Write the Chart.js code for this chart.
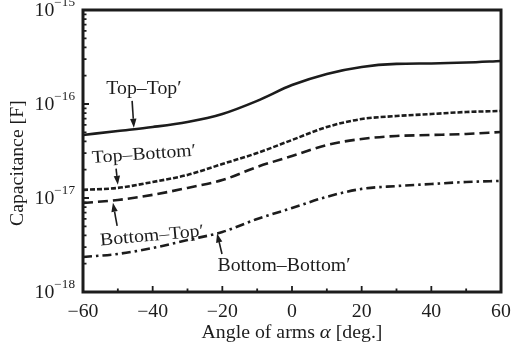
<!DOCTYPE html>
<html lang="en">
<head>
	<meta charset="UTF-8">
	<script src="https://cdn.jsdelivr.net/npm/chart.js"></script>
	<title>Capacitance vs angle of arms</title>
	<style>
		html, body { margin: 0; padding: 0; background: #fff; }
		#zonagrafico { width: 513px; height: 351px; }
	</style>
</head>
<body>
	<div id="zonagrafico">
		<canvas id="myChart"></canvas>
	</div>
	<script type="text/javascript">
		// data
		const angles = [-60, -50, -40, -30, -20, -10, 0, 10, 20, 30, 40, 50, 60];
		const topTop = [4.68e-17, 5.16e-17, 5.69e-17, 6.44e-17, 7.83e-17, 1.08e-16, 1.59e-16, 2.09e-16, 2.48e-16, 2.67e-16, 2.70e-16, 2.76e-16, 2.87e-16];
		const topBottom = [1.22e-17, 1.28e-17, 1.48e-17, 1.76e-17, 2.30e-17, 3.01e-17, 4.14e-17, 5.69e-17, 6.92e-17, 7.45e-17, 7.83e-17, 8.22e-17, 8.43e-17];
		const bottomTop = [8.85e-18, 9.52e-18, 1.08e-17, 1.28e-17, 1.55e-17, 2.14e-17, 2.80e-17, 3.66e-17, 4.25e-17, 4.57e-17, 4.68e-17, 4.80e-17, 5.04e-17];
		const bottomBottom = [2.36e-18, 2.54e-18, 2.94e-18, 3.57e-18, 4.35e-18, 5.98e-18, 7.83e-18, 1.03e-17, 1.25e-17, 1.34e-17, 1.41e-17, 1.48e-17, 1.52e-17];

		const xTicks = [-60, -40, -20, 0, 20, 40, 60];
		const xMinorTicks = [-50, -30, -10, 10, 30, 50];
		const yTicks = [1e-18, 1e-17, 1e-16, 1e-15];
		const yTickExp = ['\u221218', '\u221217', '\u221216', '\u221215'];

		// labels with arrows, in data units: [text, x, y, arrow from x, from y, to x, to y, rotation]
		const notas = [
			['Top\u2013Top\u2032', -42.5, 1.44e-16, -45.9, 1.08e-16, -45.4, 5.6e-17, 0],
			['Top\u2013Bottom\u2032', -42.5, 2.9e-17, -50.5, 2.05e-17, -50.0, 1.38e-17, -0.07],
			['Bottom\u2013Top\u2032', -40.2, 3.94e-18, -50.2, 5.04e-18, -51.4, 8.9e-18, -0.09],
			['Bottom\u2013Bottom\u2032', -2.3, 1.89e-18, -20.1, 2.54e-18, -21.5, 4.2e-18, 0]
		];

		const tinta = '#1c1c1c';
		const serif = '"Liberation Serif", "Times New Roman", serif';
		const estirar = 1.1;

		function texto(ctx, s, x, y, size, align, italic, rot) {
			ctx.save();
			ctx.translate(x, y);
			if (rot) ctx.rotate(rot);
			ctx.scale(estirar, 1);
			ctx.font = (italic ? 'italic ' : '') + size + 'px ' + serif;
			ctx.textAlign = align;
			ctx.textBaseline = 'middle';
			ctx.fillStyle = tinta;
			ctx.fillText(s, 0, 0);
			ctx.restore();
		}

		function ancho(ctx, s, size, italic) {
			ctx.save();
			ctx.font = (italic ? 'italic ' : '') + size + 'px ' + serif;
			const w = ctx.measureText(s).width * estirar;
			ctx.restore();
			return w;
		}

		function flecha(ctx, x1, y1, x2, y2) {
			const ang = Math.atan2(y2 - y1, x2 - x1);
			const L = 9, W = 3.2;
			ctx.save();
			ctx.strokeStyle = tinta;
			ctx.fillStyle = tinta;
			ctx.lineWidth = 1.6;
			ctx.beginPath();
			ctx.moveTo(x1, y1);
			ctx.lineTo(x2 - L * Math.cos(ang), y2 - L * Math.sin(ang));
			ctx.stroke();
			ctx.beginPath();
			ctx.moveTo(x2, y2);
			ctx.lineTo(x2 - L * Math.cos(ang) + W * Math.sin(ang), y2 - L * Math.sin(ang) - W * Math.cos(ang));
			ctx.lineTo(x2 - L * Math.cos(ang) - W * Math.sin(ang), y2 - L * Math.sin(ang) + W * Math.cos(ang));
			ctx.closePath();
			ctx.fill();
			ctx.restore();
		}

		const marco = {
			id: 'marco',
			afterDatasetsDraw(chart) {
				const ctx = chart.ctx;
				const a = chart.chartArea;
				const xs = chart.scales.x;
				const ys = chart.scales.y;

				// frame
				ctx.save();
				ctx.strokeStyle = tinta;
				ctx.lineWidth = 3;
				ctx.strokeRect(a.left, a.top, a.right - a.left, a.bottom - a.top);

				// inward ticks, bottom axis
				ctx.lineWidth = 1.8;
				ctx.beginPath();
				xTicks.forEach(v => {
					const px = xs.getPixelForValue(v);
					ctx.moveTo(px, a.bottom);
					ctx.lineTo(px, a.bottom - 6);
				});
				xMinorTicks.forEach(v => {
					const px = xs.getPixelForValue(v);
					ctx.moveTo(px, a.bottom);
					ctx.lineTo(px, a.bottom - 3.5);
				});
				// inward ticks, left axis
				for (let d = 0; d < yTicks.length; d++) {
					const base = yTicks[d];
					const py = ys.getPixelForValue(base);
					ctx.moveTo(a.left, py);
					ctx.lineTo(a.left + 6, py);
					if (d < yTicks.length - 1) {
						for (let m = 2; m <= 9; m++) {
							const pm = ys.getPixelForValue(base * m);
							ctx.moveTo(a.left, pm);
							ctx.lineTo(a.left + 3.5, pm);
						}
					}
				}
				ctx.stroke();
				ctx.restore();

				// tick labels
				xTicks.forEach(v => {
					const s = v < 0 ? '\u2212' + Math.abs(v) : String(v);
					texto(ctx, s, xs.getPixelForValue(v), a.bottom + 20, 18, 'center');
				});
				yTicks.forEach((v, i) => {
					const py = ys.getPixelForValue(v);
					const wExp = ancho(ctx, yTickExp[i], 12);
					const xe = a.left - 8 - wExp;
					texto(ctx, '10', xe, py + 1, 18, 'right');
					texto(ctx, yTickExp[i], xe, py - 7, 12, 'left');
				});

				// axis titles
				const t1 = 'Angle of arms ', t2 = '\u03b1', t3 = ' [deg.]';
				const w1 = ancho(ctx, t1, 18), w2 = ancho(ctx, t2, 19, true), w3 = ancho(ctx, t3, 18);
				let x0 = xs.getPixelForValue(0) - (w1 + w2 + w3) / 2;
				const yT = a.bottom + 41;
				texto(ctx, t1, x0, yT, 18, 'left');
				texto(ctx, t2, x0 + w1, yT, 19, 'left', true);
				texto(ctx, t3, x0 + w1 + w2, yT, 18, 'left');

				texto(ctx, 'Capacitance [F]', 18, ys.getPixelForValue(2.35e-17), 18, 'center', false, -Math.PI / 2);

				// curve labels and arrows
				notas.forEach(n => {
					texto(ctx, n[0], xs.getPixelForValue(n[1]), ys.getPixelForValue(n[2]), 18, 'center', false, n[7]);
					flecha(ctx, xs.getPixelForValue(n[3]), ys.getPixelForValue(n[4]), xs.getPixelForValue(n[5]), ys.getPixelForValue(n[6]));
				});
			}
		};

		function serie(label, data, dash, width) {
			return {
				label: label,
				data: data,
				borderColor: tinta,
				borderWidth: width,
				borderDash: dash,
				pointRadius: 0,
				fill: false,
				cubicInterpolationMode: 'monotone'
			};
		}

		function dibujar() {
			const ctx = document.getElementById('myChart').getContext('2d');
			const myChart = new Chart(ctx, {
				type: 'line',
				data: {
					labels: angles,
					datasets: [
						serie('Top\u2013Top\u2032', topTop, [], 2.6),
						serie('Top\u2013Bottom\u2032', topBottom, [5, 2], 2.6),
						serie('Bottom\u2013Top\u2032', bottomTop, [10, 5], 2.6),
						serie('Bottom\u2013Bottom\u2032', bottomBottom, [9, 4, 2.5, 4], 2.6)
					]
				},
				options: {
					responsive: true,
					maintainAspectRatio: false,
					animation: false,
					layout: { padding: { left: 0, right: 12, top: 10, bottom: 0 } },
					plugins: { legend: { display: false }, tooltip: { enabled: false } },
					scales: {
						x: {
							type: 'linear',
							min: -60,
							max: 60,
							grid: { display: false },
							border: { display: false },
							ticks: { display: false },
							afterFit(scale) { scale.height = 59; }
						},
						y: {
							type: 'logarithmic',
							min: 1e-18,
							max: 1e-15,
							grid: { display: false },
							border: { display: false },
							ticks: { display: false },
							afterFit(scale) { scale.width = 83; }
						}
					}
				},
				plugins: [marco]
			});
		}

		// wait for the serif font, canvas text does not trigger loading
		Promise.all([
			document.fonts.load('18px "Liberation Serif"'),
			document.fonts.load('italic 19px "Liberation Serif"')
		]).then(dibujar, dibujar);
	</script>
</body>
</html>
